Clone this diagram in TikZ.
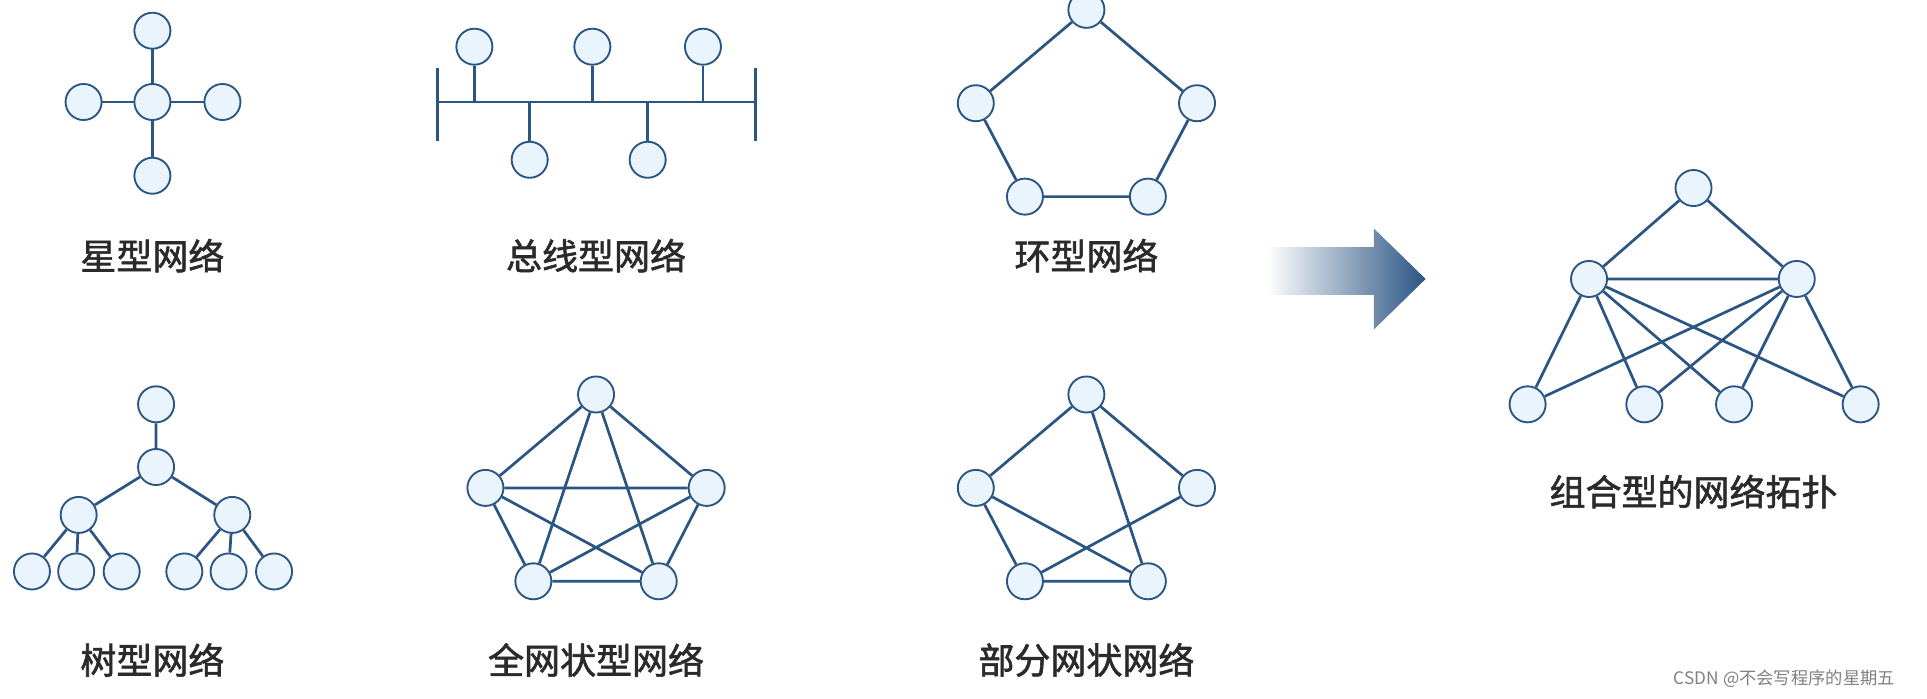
\documentclass[tikz,border=0pt]{standalone}
\usepackage{fontspec}
\newfontfamily\cjk{Noto Sans CJK SC}
\newfontfamily\cjkb[FakeBold=1.6]{Noto Sans CJK SC}
\definecolor{lnk}{HTML}{2B5583}
\definecolor{nfill}{HTML}{EAF4FC}
\definecolor{txt}{HTML}{2A2A2A}
\begin{document}
\begin{tikzpicture}[x=0.03cm,y=-0.03cm,
  nd/.style={circle,draw=lnk,fill=nfill,line width=1.3pt,minimum size=0.88cm,inner sep=0pt},
  lk/.style={draw=lnk,line width=1.9pt},
  lbl/.style={font=\cjkb\fontsize{25}{28}\selectfont,text=txt}]
\useasboundingbox (0,0) rectangle (1568,568);
% star
\coordinate (sc) at (124,83);
\coordinate (st) at (124,25);
\coordinate (sb) at (124,143);
\coordinate (sl) at (68,83);
\coordinate (sr) at (181,83);
\draw[lk] (st)--(sb) (sl)--(sr);
\node[nd] at (sc) (scn) {};
\foreach \n in {st,sb,sl,sr} \node[nd] (n\n) at (\n) {};
\node[lbl] (l1) at (124,208) {星型网络};
% bus
\coordinate (b0) at (356,83); \coordinate (b1) at (615,83);
\coordinate (b0t) at (356,55); \coordinate (b0b) at (356,115);
\coordinate (b1t) at (615,55); \coordinate (b1b) at (615,115);
\draw[lk] (b0)--(b1) (b0t)--(b0b) (b1t)--(b1b);
\foreach \n/\x/\y in {ba/386/38,bb/482/38,bc/572/38,bd/431/130,be/527/130}{
  \coordinate (\n j) at (\x,83);
  \node[nd] (\n) at (\x,\y) {};
  \draw[lk] (\n)--(\n j);}
\node[lbl] (l2) at (485,208) {总线型网络};
% ring
\node[nd] (r1) at (884,8) {}; \node[nd] (r2) at (794,84) {}; \node[nd] (r3) at (974,84) {};
\node[nd] (r4) at (834,160) {}; \node[nd] (r5) at (934,160) {};
\draw[lk] (r1)--(r2)--(r4)--(r5)--(r3)--(r1);
\node[lbl] (l3) at (884,208) {环型网络};
% tree
\node[nd] (t0) at (127,329) {}; \node[nd] (t1) at (127,380) {};
\node[nd] (t2) at (64,419) {}; \node[nd] (t3) at (189,419) {};
\draw[lk] (t0)--(t1) (t1)--(t2) (t1)--(t3);
\foreach \n/\x/\p in {a/26/t2,b/62/t2,c/99/t2,d/150/t3,e/186/t3,f/223/t3}{
  \node[nd] (tl\n) at (\x,465) {}; \draw[lk] (\p)--(tl\n);}
\node[lbl] (l4) at (124,537) {树型网络};
% full mesh
\node[nd] (f1) at (485,321) {}; \node[nd] (f2) at (395,397) {}; \node[nd] (f3) at (575,397) {};
\node[nd] (f4) at (434,473) {}; \node[nd] (f5) at (536,473) {};
\draw[lk] (f1)--(f2) (f1)--(f3) (f1)--(f4) (f1)--(f5) (f2)--(f3) (f2)--(f4) (f2)--(f5)
  (f3)--(f4) (f3)--(f5) (f4)--(f5);
\node[lbl] (l5) at (485,537) {全网状型网络};
% partial mesh
\node[nd] (p1) at (884,321) {}; \node[nd] (p2) at (794,397) {}; \node[nd] (p3) at (974,397) {};
\node[nd] (p4) at (834,473) {}; \node[nd] (p5) at (934,473) {};
\draw[lk] (p1)--(p2) (p1)--(p3) (p1)--(p5) (p2)--(p4) (p2)--(p5) (p3)--(p4) (p4)--(p5);
\node[lbl] (l6) at (884,537) {部分网状网络};
% arrow
\shade[left color=white,right color=lnk,shading angle=90]
  (1030,201) -- (1118,201) -- (1118,186) -- (1160,227) -- (1118,268) -- (1118,240) -- (1030,240) -- cycle;
% combined
\node[nd] (c0) at (1378,153) {}; \node[nd] (cl) at (1293,227) {}; \node[nd] (cr) at (1462,227) {};
\node[nd] (c1) at (1243,329) {}; \node[nd] (c2) at (1338,329) {};
\node[nd] (c3) at (1411,329) {}; \node[nd] (c4) at (1514,329) {};
\draw[lk] (c0)--(cl) (c0)--(cr) (cl)--(cr);
\foreach \b in {c1,c2,c3,c4} \draw[lk] (cl)--(\b) (cr)--(\b);
\node[lbl] (l7) at (1378,400) {组合型的网络拓扑};
\node[font=\cjk\fontsize{12}{14}\selectfont,text=gray] (wm) at (1452,552) {CSDN @不会写程序的星期五};
\end{tikzpicture}
\end{document}
